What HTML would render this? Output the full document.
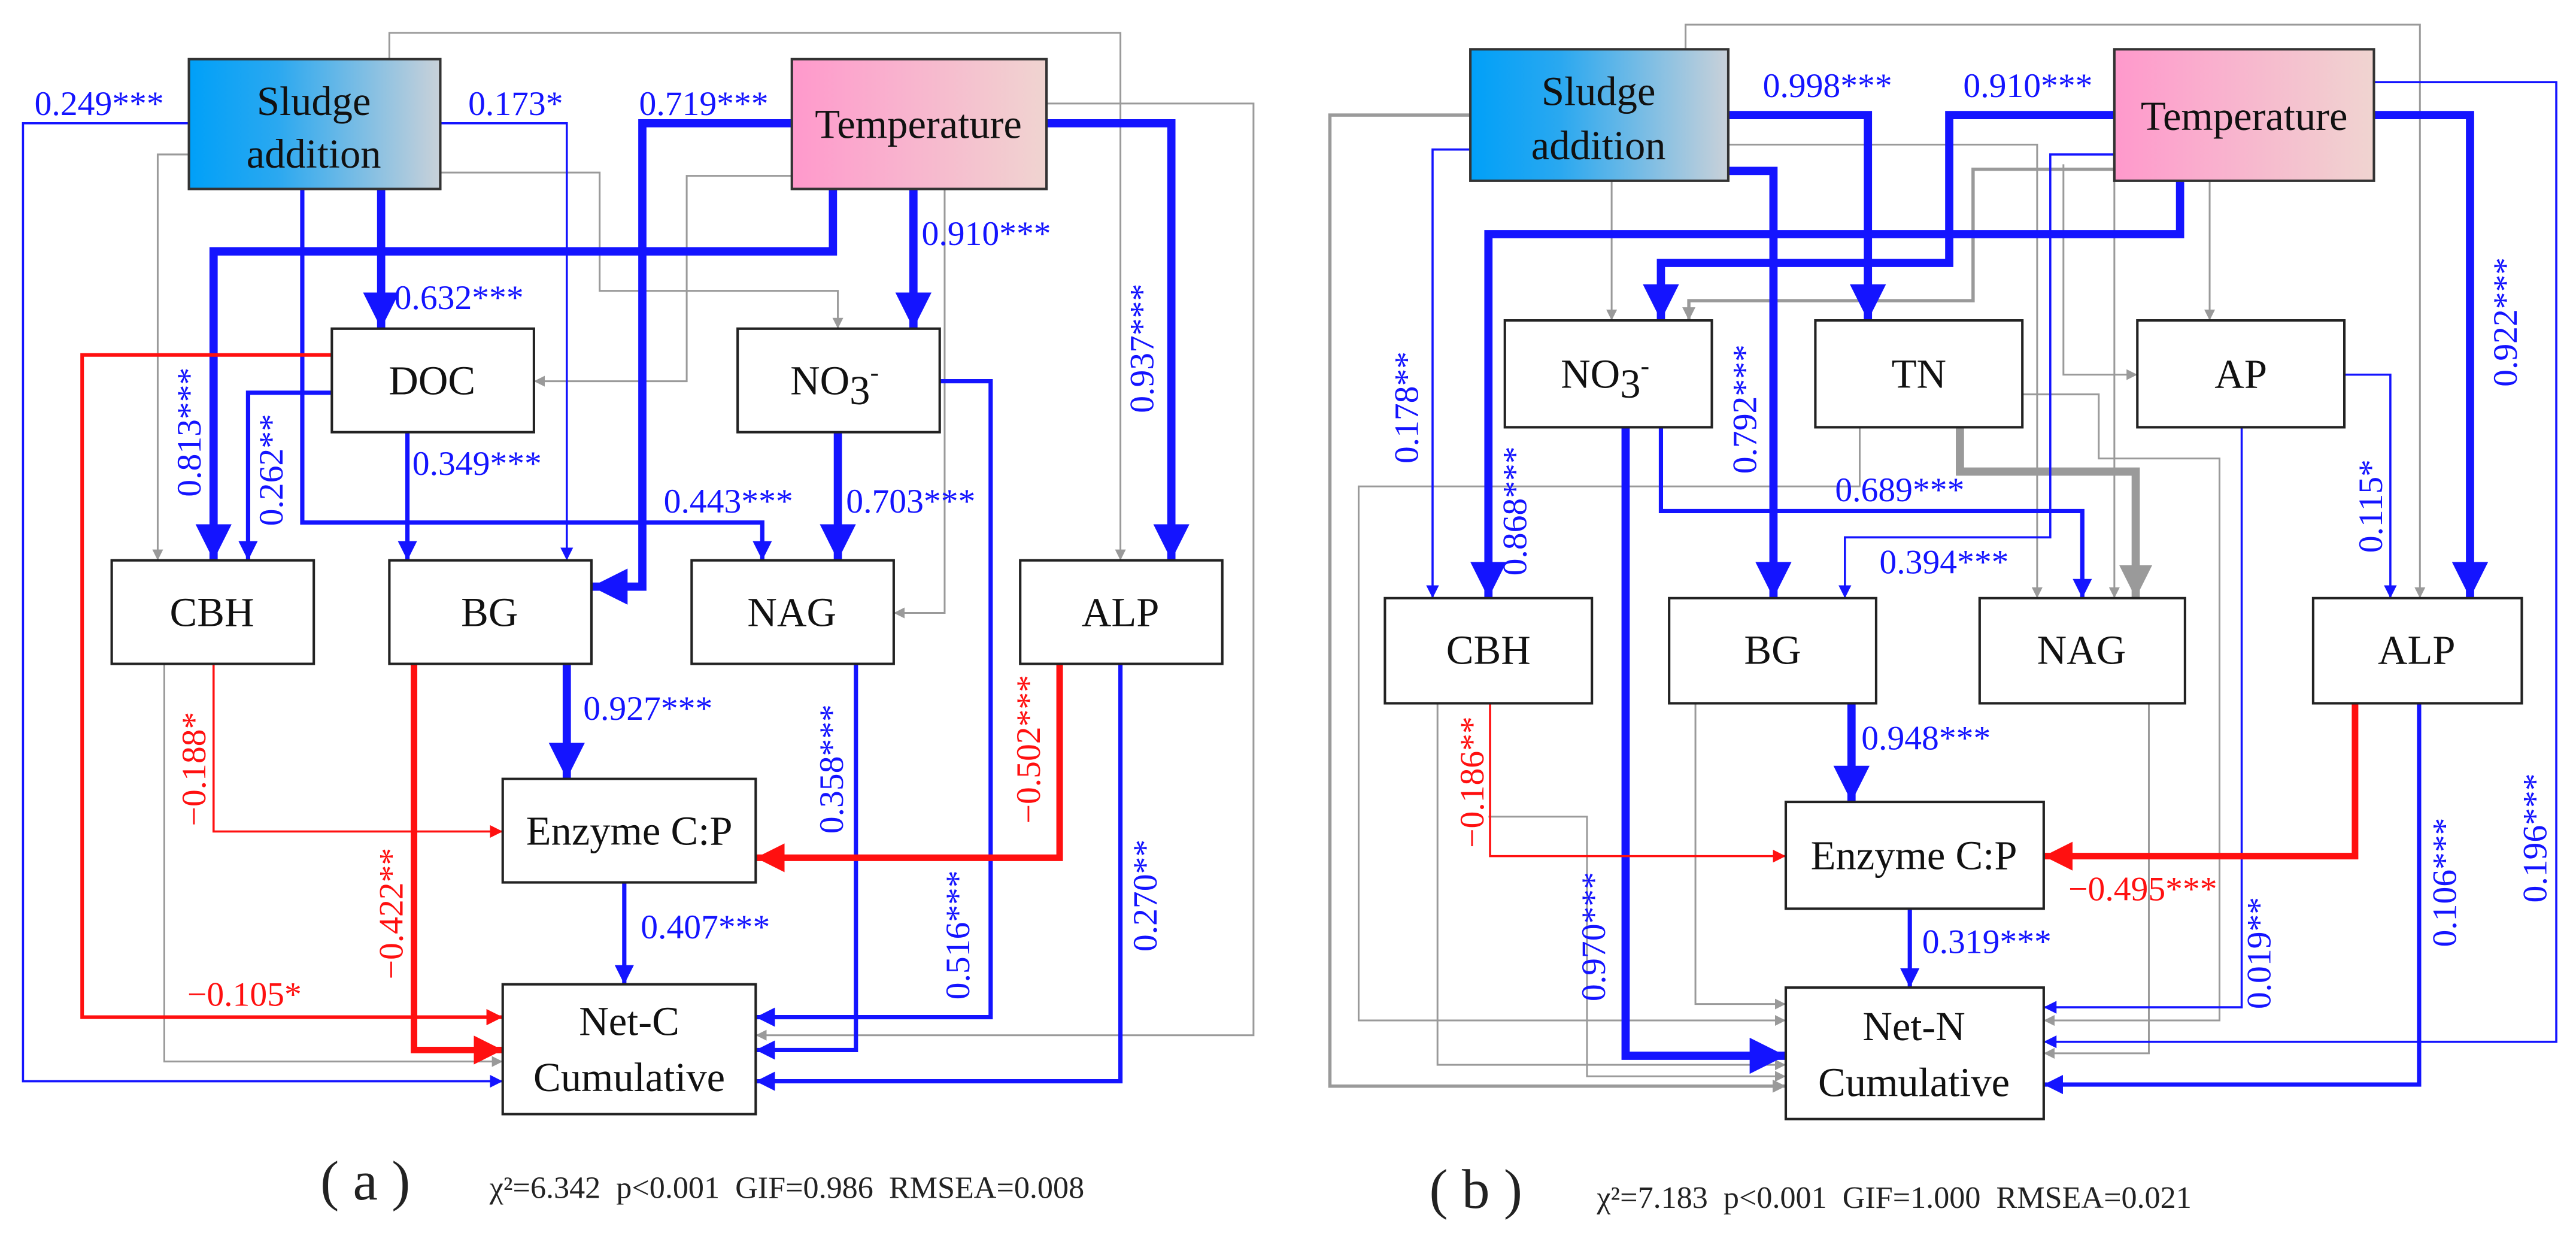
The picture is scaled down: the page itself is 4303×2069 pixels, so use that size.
<!DOCTYPE html>
<html><head><meta charset="utf-8"><style>
html,body{margin:0;padding:0;background:#fff;}
svg{display:block;}
text{font-family:'Liberation Serif','Times New Roman','DejaVu Serif',serif;}
.b{fill:#1414ff;font-size:21px;}
.r{fill:#ff1010;font-size:21px;}
.bx{font-size:25px;fill:#111;}
path.c{fill:none;}
marker path{stroke:none;}
.gt{stroke:#9a9a9a;stroke-width:1.1;marker-end:url(#mg);}
.gm{stroke:#9a9a9a;stroke-width:2;marker-end:url(#mgm);}
.gk{stroke:#9a9a9a;stroke-width:5;marker-end:url(#mgk);}
.bt{stroke:#1414ff;stroke-width:1.3;marker-end:url(#mb);}
.bm{stroke:#1414ff;stroke-width:2.6;marker-end:url(#mbm);}
.bk{stroke:#1414ff;stroke-width:5;marker-end:url(#mbk);}
.rt{stroke:#ff1010;stroke-width:1.3;marker-end:url(#mr);}
.rm{stroke:#ff1010;stroke-width:2.2;marker-end:url(#mrm);}
.rk{stroke:#ff1010;stroke-width:4;marker-end:url(#mrk);}
rect.n{fill:#fff;stroke:#222;stroke-width:1.5;}
</style></head><body>
<svg width="4303" height="2069" viewBox="0 0 1568 754" preserveAspectRatio="none" xmlns="http://www.w3.org/2000/svg" font-family="'Liberation Serif', 'DejaVu Serif', serif">
<defs>
<marker id="mg" viewBox="0 0 10 10" refX="10" refY="5" markerWidth="6" markerHeight="6" orient="auto"><path d="M0,0L10,5L0,10z" style="fill:#9a9a9a"/></marker>
<marker id="mgm" viewBox="0 0 10 10" refX="10" refY="5" markerWidth="4" markerHeight="4" orient="auto"><path d="M0,0L10,5L0,10z" style="fill:#9a9a9a"/></marker>
<marker id="mgk" viewBox="0 0 10 10" refX="10" refY="5" markerWidth="4" markerHeight="4.4" orient="auto"><path d="M0,0L10,5L0,10z" style="fill:#9a9a9a"/></marker>
<marker id="mb" viewBox="0 0 10 10" refX="10" refY="5" markerWidth="6" markerHeight="6" orient="auto"><path d="M0,0L10,5L0,10z" style="fill:#1414ff"/></marker>
<marker id="mbm" viewBox="0 0 10 10" refX="10" refY="5" markerWidth="4.5" markerHeight="4.5" orient="auto"><path d="M0,0L10,5L0,10z" style="fill:#1414ff"/></marker>
<marker id="mbk" viewBox="0 0 10 10" refX="10" refY="5" markerWidth="4.4" markerHeight="4.4" orient="auto"><path d="M0,0L10,5L0,10z" style="fill:#1414ff"/></marker>
<marker id="mr" viewBox="0 0 10 10" refX="10" refY="5" markerWidth="6" markerHeight="6" orient="auto"><path d="M0,0L10,5L0,10z" style="fill:#ff1010"/></marker>
<marker id="mrm" viewBox="0 0 10 10" refX="10" refY="5" markerWidth="4.5" markerHeight="4.5" orient="auto"><path d="M0,0L10,5L0,10z" style="fill:#ff1010"/></marker>
<marker id="mrk" viewBox="0 0 10 10" refX="10" refY="5" markerWidth="4.4" markerHeight="4.4" orient="auto"><path d="M0,0L10,5L0,10z" style="fill:#ff1010"/></marker>
<linearGradient id="gs" x1="0" x2="1" y1="0" y2="0"><stop offset="0" stop-color="#00a0f8"/><stop offset="0.35" stop-color="#2aa8f0"/><stop offset="1" stop-color="#c9d1d9"/></linearGradient>
<linearGradient id="gp" x1="0" x2="1" y1="0" y2="0"><stop offset="0" stop-color="#ff99cc"/><stop offset="1" stop-color="#f0d4d0"/></linearGradient>
</defs>

<!-- ===== LEFT PANEL ===== -->
<path class="c gt" d="M237,36V20H682V341"/>
<path class="c gt" d="M637,63H763V630H460"/>
<path class="c gt" d="M115,94H96V341"/>
<path class="c gt" d="M268,105H365V177H510V200"/>
<path class="c gt" d="M482,107H418V232H325"/>
<path class="c gt" d="M575,115V373H544"/>
<path class="c gt" d="M100,404V646H306"/>

<path class="c bt" d="M115,75H14V658H306"/>
<path class="c bt" d="M268,75H345V341"/>
<path class="c bk" d="M232,115V200"/>
<path class="c bm" d="M184,115V318H464V341"/>
<path class="c bk" d="M482,75H391V357H360"/>
<path class="c bk" d="M507,115V153H130V341"/>
<path class="c bk" d="M556,115V200"/>
<path class="c bk" d="M637,75H713V341"/>
<path class="c bm" d="M202,239H151V341"/>
<path class="c bm" d="M248,263V341"/>
<path class="c bk" d="M510,263V341"/>
<path class="c bm" d="M572,232H603V619H460"/>
<path class="c bm" d="M521,404V639H460"/>
<path class="c bm" d="M682,404V658H460"/>
<path class="c bk" d="M345,404V474"/>
<path class="c bm" d="M380,537V599"/>

<path class="c rm" d="M202,216H50V619H306"/>
<path class="c rt" d="M130,404V506H306"/>
<path class="c rk" d="M252,404V639H306"/>
<path class="c rk" d="M645,404V522H460"/>

<rect x="115" y="36" width="153" height="79" fill="url(#gs)" stroke="#333" stroke-width="1.5"/>
<text class="bx" x="191" y="70" text-anchor="middle">Sludge</text>
<text class="bx" x="191" y="102" text-anchor="middle">addition</text>
<rect x="482" y="36" width="155" height="79" fill="url(#gp)" stroke="#333" stroke-width="1.5"/>
<text class="bx" x="559" y="84" text-anchor="middle">Temperature</text>
<rect class="n" x="202" y="200" width="123" height="63"/><text class="bx" x="263" y="240" text-anchor="middle">DOC</text>
<rect class="n" x="449" y="200" width="123" height="63"/><text class="bx" x="508" y="240" text-anchor="middle">NO<tspan dy="6">3</tspan><tspan dy="-14" font-size="16">-</tspan></text>
<rect class="n" x="68" y="341" width="123" height="63"/><text class="bx" x="129" y="381" text-anchor="middle">CBH</text>
<rect class="n" x="237" y="341" width="123" height="63"/><text class="bx" x="298" y="381" text-anchor="middle">BG</text>
<rect class="n" x="421" y="341" width="123" height="63"/><text class="bx" x="482" y="381" text-anchor="middle">NAG</text>
<rect class="n" x="621" y="341" width="123" height="63"/><text class="bx" x="682" y="381" text-anchor="middle">ALP</text>
<rect class="n" x="306" y="474" width="154" height="63"/><text class="bx" x="383" y="514" text-anchor="middle">Enzyme C:P</text>
<rect class="n" x="306" y="599" width="154" height="79"/><text class="bx" x="383" y="630" text-anchor="middle">Net-C</text><text class="bx" x="383" y="664" text-anchor="middle">Cumulative</text>

<text class="b" x="21" y="70">0.249***</text>
<text class="b" x="285" y="70">0.173*</text>
<text class="b" x="389" y="70">0.719***</text>
<text class="b" x="240" y="188">0.632***</text>
<text class="b" x="561" y="149">0.910***</text>
<text class="b" x="251" y="289">0.349***</text>
<text class="b" x="404" y="312">0.443***</text>
<text class="b" x="515" y="312">0.703***</text>
<text class="b" x="355" y="438">0.927***</text>
<text class="b" x="390" y="571">0.407***</text>
<text class="r" x="114" y="612">−0.105*</text>
<text class="b" text-anchor="middle" transform="translate(122,263) rotate(-90)">0.813***</text>
<text class="b" text-anchor="middle" transform="translate(172,286) rotate(-90)">0.262**</text>
<text class="b" text-anchor="middle" transform="translate(702,212) rotate(-90)">0.937***</text>
<text class="r" text-anchor="middle" transform="translate(125,468) rotate(-90)">−0.188*</text>
<text class="r" text-anchor="middle" transform="translate(245,556) rotate(-90)">−0.422**</text>
<text class="b" text-anchor="middle" transform="translate(513,468) rotate(-90)">0.358***</text>
<text class="r" text-anchor="middle" transform="translate(633,456) rotate(-90)">−0.502***</text>
<text class="b" text-anchor="middle" transform="translate(590,569) rotate(-90)">0.516***</text>
<text class="b" text-anchor="middle" transform="translate(704,545) rotate(-90)">0.270**</text>

<!-- ===== RIGHT PANEL ===== -->
<path class="c gt" d="M1026,30V15H1473V364"/>
<path class="c gm" d="M895,70H809.5V661H1087"/>
<path class="c gt" d="M981,110V195"/>
<path class="c gt" d="M1052,88H1240V364"/>
<path class="c gt" d="M1287,90V364"/>
<path class="c gm" d="M1287,103H1201V183H1028V195"/>
<path class="c gt" d="M1345,110V195"/>
<path class="c gt" d="M1132,260V296H827V621H1087"/>
<path class="c gt" d="M1231,240H1277.5V279H1351V621H1244"/>
<path class="c gk" d="M1193,260V287H1300V364"/>
<path class="c gt" d="M875,428V648H1087"/>
<path class="c gt" d="M906,497H966V655H1087"/>
<path class="c gt" d="M1032,428V611H1087"/>
<path class="c gt" d="M1308,428V641H1244"/>
<path class="c gt" d="M1256,100V228H1301"/>

<path class="c bt" d="M1287,94H1248V327H1123V364"/>
<path class="c bt" d="M895,91H872V364"/>
<path class="c bk" d="M1052,70H1137V195"/>
<path class="c bk" d="M1052,104H1079.5V364"/>
<path class="c bk" d="M1287,70H1186.5V160H1011V195"/>
<path class="c bk" d="M1327,110V142.5H906V364"/>
<path class="c bk" d="M1445,70H1503.5V364"/>
<path class="c bt" d="M1445,50H1556V634H1244"/>
<path class="c bk" d="M989.5,260V642.5H1087"/>
<path class="c bm" d="M1011,260V311H1267.5V364"/>
<path class="c bt" d="M1427,228H1455V364"/>
<path class="c bt" d="M1364.5,260V613H1244"/>
<path class="c bm" d="M1472.5,428V660H1244"/>
<path class="c bk" d="M1127,428V488"/>
<path class="c bm" d="M1162.5,553V601"/>
<path class="c rt" d="M907,428V521H1087"/>
<path class="c rk" d="M1433.5,428V521H1244"/>

<rect x="895" y="30" width="157" height="80" fill="url(#gs)" stroke="#333" stroke-width="1.5"/>
<text class="bx" x="973" y="64" text-anchor="middle">Sludge</text>
<text class="bx" x="973" y="97" text-anchor="middle">addition</text>
<rect x="1287" y="30" width="158" height="80" fill="url(#gp)" stroke="#333" stroke-width="1.5"/>
<text class="bx" x="1366" y="79" text-anchor="middle">Temperature</text>
<rect class="n" x="916" y="195" width="126" height="65"/><text class="bx" x="977" y="236" text-anchor="middle">NO<tspan dy="6">3</tspan><tspan dy="-14" font-size="16">-</tspan></text>
<rect class="n" x="1105" y="195" width="126" height="65"/><text class="bx" x="1168" y="236" text-anchor="middle">TN</text>
<rect class="n" x="1301" y="195" width="126" height="65"/><text class="bx" x="1364" y="236" text-anchor="middle">AP</text>
<rect class="n" x="843" y="364" width="126" height="64"/><text class="bx" x="906" y="404" text-anchor="middle">CBH</text>
<rect class="n" x="1016" y="364" width="126" height="64"/><text class="bx" x="1079" y="404" text-anchor="middle">BG</text>
<rect class="n" x="1205" y="364" width="125" height="64"/><text class="bx" x="1267" y="404" text-anchor="middle">NAG</text>
<rect class="n" x="1408" y="364" width="127" height="64"/><text class="bx" x="1471" y="404" text-anchor="middle">ALP</text>
<rect class="n" x="1087" y="488" width="157" height="65"/><text class="bx" x="1165" y="529" text-anchor="middle">Enzyme C:P</text>
<rect class="n" x="1087" y="601" width="157" height="80"/><text class="bx" x="1165" y="633" text-anchor="middle">Net-N</text><text class="bx" x="1165" y="667" text-anchor="middle">Cumulative</text>

<text class="b" x="1073" y="59">0.998***</text>
<text class="b" x="1195" y="59">0.910***</text>
<text class="b" x="1117" y="305">0.689***</text>
<text class="b" x="1144" y="349">0.394***</text>
<text class="b" x="1133" y="456">0.948***</text>
<text class="b" x="1170" y="580">0.319***</text>
<text class="r" x="1259" y="548">−0.495***</text>
<text class="b" text-anchor="middle" transform="translate(863,248) rotate(-90)">0.178**</text>
<text class="b" text-anchor="middle" transform="translate(929,311) rotate(-90)">0.868***</text>
<text class="b" text-anchor="middle" transform="translate(1069,249) rotate(-90)">0.792***</text>
<text class="b" text-anchor="middle" transform="translate(1532,196) rotate(-90)">0.922***</text>
<text class="b" text-anchor="middle" transform="translate(1450,308) rotate(-90)">0.115*</text>
<text class="r" text-anchor="middle" transform="translate(903,476) rotate(-90)">−0.186**</text>
<text class="b" text-anchor="middle" transform="translate(977,570) rotate(-90)">0.970***</text>
<text class="b" text-anchor="middle" transform="translate(1382,580) rotate(-90)">0.019**</text>
<text class="b" text-anchor="middle" transform="translate(1495,537) rotate(-90)">0.106***</text>
<text class="b" text-anchor="middle" transform="translate(1550,510) rotate(-90)">0.196***</text>

<!-- captions -->
<text x="195" y="730" font-size="34" fill="#222">( a )</text>
<text x="298" y="729" font-size="19" fill="#222" xml:space="preserve">χ²=6.342  p&lt;0.001  GIF=0.986  RMSEA=0.008</text>
<text x="870" y="735" font-size="34" fill="#222">( b )</text>
<text x="972" y="735" font-size="19" fill="#222" xml:space="preserve">χ²=7.183  p&lt;0.001  GIF=1.000  RMSEA=0.021</text>
</svg>
</body></html>
